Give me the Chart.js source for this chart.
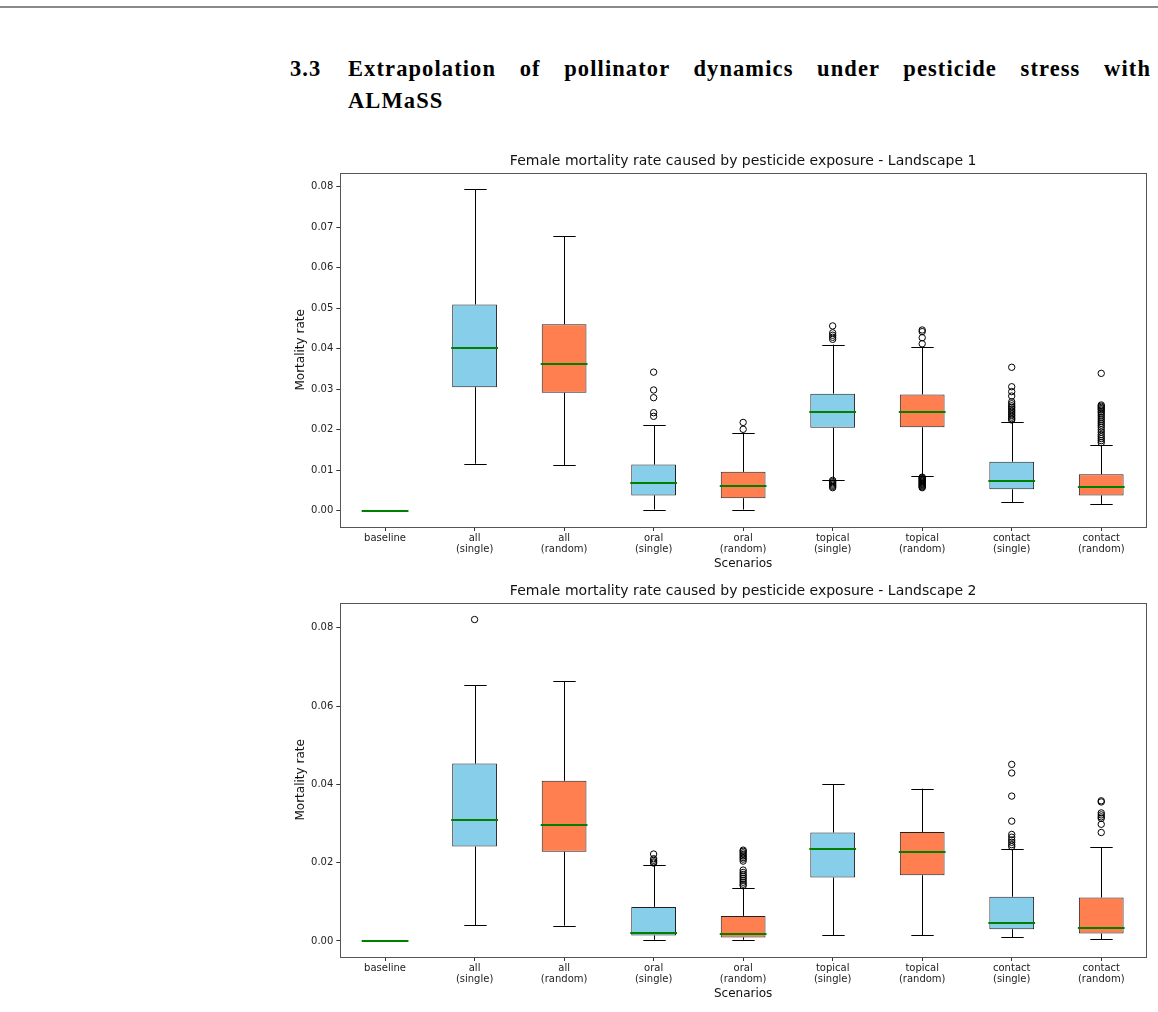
<!DOCTYPE html>
<html>
<head>
<meta charset="utf-8">
<script src="https://cdn.jsdelivr.net/npm/chart.js@4.4.1/dist/chart.umd.min.js"></script>
<style>
  html, body { margin: 0; padding: 0; background: #fff; }
  body { width: 1158px; height: 1012px; position: relative; overflow: hidden; }
  .rule { position: absolute; left: 0; top: 6px; width: 1158px; height: 2px; background: #8a8a8a; }
  .head { position: absolute; font-family: "Liberation Serif", serif; font-weight: bold; font-size: 22.5px; line-height: 32.6px; color: #000; white-space: nowrap; letter-spacing: 1.1px; }
  .num { left: 290px; top: 52.8px; }
  .line1 { left: 348px; top: 52.8px; width: 803px; text-align: justify; text-align-last: justify; white-space: normal; }
  .line2 { left: 348px; top: 85.4px; }
  .box { position: absolute; left: 290px; width: 868px; height: 425px; }
</style>
</head>
<body>
<div class="rule"></div>
<div class="head num">3.3</div>
<div class="head line1">Extrapolation of pollinator dynamics under pesticide stress with</div>
<div class="head line2">ALMaSS</div>
<div class="box" style="top:150px"><canvas id="land1"></canvas></div>
<div class="box" style="top:580px"><canvas id="land2"></canvas></div>
<script>
const scenarios = [["baseline"], ["all", "(single)"], ["all", "(random)"], ["oral", "(single)"], ["oral", "(random)"],
  ["topical", "(single)"], ["topical", "(random)"], ["contact", "(single)"], ["contact", "(random)"]]

// Landscape 1
const l1Low    = [0, 0.0116, 0.0113, 0.0003, 0.0003, 0.0077, 0.0085, 0.0021, 0.0017]
const l1Q1     = [0, 0.0305, 0.0291, 0.0038, 0.0031, 0.0205, 0.0206, 0.0053, 0.0038]
const l1Median = [0, 0.0402, 0.0362, 0.0069, 0.0061, 0.0244, 0.0243, 0.0074, 0.0058]
const l1Q3     = [0, 0.0509, 0.0460, 0.0114, 0.0096, 0.0289, 0.0287, 0.0121, 0.0090]
const l1High   = [0, 0.0793, 0.0677, 0.0211, 0.0192, 0.0410, 0.0404, 0.0220, 0.0162]
const l1Outliers = [
  [], [], [],
  [0.0342, 0.0298, 0.0279, 0.0242, 0.0233],
  [0.0218, 0.0201],
  [0.0456, 0.0439, 0.0433, 0.0428, 0.0423, 0.0075, 0.0072, 0.0069, 0.0066, 0.0063, 0.0060, 0.0057],
  [0.0446, 0.0442, 0.0427, 0.0412, 0.0083, 0.0081, 0.0079, 0.0077, 0.0075, 0.0073, 0.0071, 0.0069, 0.0067, 0.0065, 0.0063, 0.0061, 0.0059, 0.0057],
  [0.0354, 0.0306, 0.0294, 0.0283, 0.0269, 0.0264, 0.0259, 0.0255, 0.0251, 0.0247, 0.0243, 0.0239, 0.0235, 0.0231, 0.0227, 0.0224],
  [0.0339, 0.0261, 0.0258, 0.0255, 0.0252, 0.0249, 0.0245, 0.0241, 0.0236, 0.0231, 0.0226, 0.0221, 0.0216, 0.0211, 0.0206, 0.0200, 0.0194, 0.0188, 0.0183, 0.0178, 0.0173, 0.0168]
]
const l1Ticks = [0, 0.01, 0.02, 0.03, 0.04, 0.05, 0.06, 0.07, 0.08]

// Landscape 2
const l2Low    = [0, 0.0040, 0.0039, 0.0003, 0.0003, 0.0015, 0.0015, 0.0010, 0.0005]
const l2Q1     = [0, 0.0241, 0.0228, 0.0014, 0.0009, 0.0162, 0.0168, 0.0030, 0.0019]
const l2Median = [0, 0.0308, 0.0296, 0.0020, 0.0017, 0.0235, 0.0228, 0.0047, 0.0033]
const l2Q3     = [0, 0.0453, 0.0409, 0.0087, 0.0064, 0.0277, 0.0278, 0.0113, 0.0111]
const l2High   = [0, 0.0653, 0.0663, 0.0194, 0.0136, 0.0400, 0.0389, 0.0235, 0.0239]
const l2Outliers = [
  [], [0.0821], [],
  [0.0222, 0.0210, 0.0206, 0.0202, 0.0199],
  [0.0232, 0.0229, 0.0225, 0.0221, 0.0217, 0.0213, 0.0209, 0.0204, 0.0181, 0.0175, 0.0170, 0.0165, 0.0160, 0.0155, 0.0150, 0.0145, 0.0141],
  [], [],
  [0.0451, 0.0429, 0.0370, 0.0306, 0.0272, 0.0265, 0.0258, 0.0252, 0.0246, 0.0241],
  [0.0358, 0.0355, 0.0327, 0.0322, 0.0317, 0.0313, 0.0298, 0.0277]
]
const l2Ticks = [0, 0.02, 0.04, 0.06, 0.08]

const SINGLE = "#87CEEB"
const RANDOM = "#FF7F50"
const MEDIAN = "#008000"
const FONT = "'DejaVu Sans', sans-serif"

// whiskers, caps, medians, fliers, frame and titles, all placed through the chart scales
const boxParts = {
  id: "boxParts",
  afterDatasetsDraw(chart, args, opts) {
    const { ctx, chartArea: a, scales: { x, y } } = chart
    const unit = x.getPixelForValue(1) - x.getPixelForValue(0)
    const crisp = v => Math.round(v) + 0.5
    ctx.save()
    ctx.lineWidth = 1
    ctx.strokeStyle = "#000"
    opts.low.forEach((lo, i) => {
      const cx = crisp(x.getPixelForValue(i))
      const yLo = y.getPixelForValue(lo), yHi = y.getPixelForValue(opts.high[i])
      const yQ1 = y.getPixelForValue(opts.q1[i]), yQ3 = y.getPixelForValue(opts.q3[i])
      ctx.beginPath()
      ctx.moveTo(cx, yQ1); ctx.lineTo(cx, yLo)
      ctx.moveTo(cx, yQ3); ctx.lineTo(cx, yHi)
      ctx.moveTo(cx - unit * 0.125, crisp(yLo)); ctx.lineTo(cx + unit * 0.125, crisp(yLo))
      ctx.moveTo(cx - unit * 0.125, crisp(yHi)); ctx.lineTo(cx + unit * 0.125, crisp(yHi))
      ctx.stroke()
    })
    ctx.strokeStyle = MEDIAN
    ctx.lineWidth = 2
    opts.median.forEach((m, i) => {
      const cx = x.getPixelForValue(i)
      const ym = Math.round(y.getPixelForValue(m))
      ctx.beginPath()
      ctx.moveTo(cx - unit * 0.25 - 1, ym); ctx.lineTo(cx + unit * 0.25 + 1, ym)
      ctx.stroke()
    })
    ctx.strokeStyle = "#000"
    ctx.lineWidth = 1
    opts.outliers.forEach((list, i) => {
      const cx = x.getPixelForValue(i)
      list.forEach(v => {
        ctx.beginPath()
        ctx.arc(cx, y.getPixelForValue(v), 3.2, 0, Math.PI * 2)
        ctx.stroke()
      })
    })
    ctx.strokeStyle = "#555"
    ctx.strokeRect(crisp(a.left), crisp(a.top), Math.round(a.right - a.left), Math.round(a.bottom - a.top))

    ctx.fillStyle = "#111"
    ctx.textAlign = "center"
    ctx.textBaseline = "middle"
    ctx.font = "14px " + FONT
    ctx.fillText(opts.title, (a.left + a.right) / 2, a.top - 11.5)
    ctx.font = "12px " + FONT
    ctx.fillText("Scenarios", (a.left + a.right) / 2, a.bottom + 37)
    ctx.translate(10.7, (a.top + a.bottom) / 2)
    ctx.rotate(-Math.PI / 2)
    ctx.fillText("Mortality rate", 0, 0)
    ctx.restore()
  }
}

function boxChart(id, title, low, q1, median, q3, high, outliers, ticks, yMin, yMax) {
  return new Chart(document.getElementById(id), {
    type: "bar",
    data: {
      labels: scenarios,
      datasets: [{
        data: q1.map((v, i) => [v, q3[i]]),
        backgroundColor: scenarios.map(s => s[1] === "(random)" ? RANDOM : SINGLE),
        borderColor: "#222",
        borderWidth: 1,
        borderSkipped: false,
        barPercentage: 0.5,
        categoryPercentage: 1
      }]
    },
    options: {
      responsive: true,
      maintainAspectRatio: false,
      animation: false,
      events: [],
      layout: { padding: { left: 0, right: 12, top: 22.7, bottom: 0 } },
      plugins: {
        legend: { display: false },
        tooltip: { enabled: false },
        title: { display: false },
        boxParts: { title, low, q1, median, q3, high, outliers }
      },
      scales: {
        x: {
          offset: true,
          border: { display: false },
          grid: { display: true, drawOnChartArea: false, drawTicks: true, tickLength: 4, color: "#333", offset: false },
          ticks: { color: "#222", padding: 2, font: { family: FONT, size: 10, lineHeight: 1.1 }, maxRotation: 0, autoSkip: false },
          afterFit: s => { s.height = 48 }
        },
        y: {
          min: yMin,
          max: yMax,
          border: { display: false },
          grid: { display: true, drawOnChartArea: false, drawTicks: true, tickLength: 4, color: "#333" },
          ticks: { color: "#222", padding: 3, font: { family: FONT, size: 10 }, callback: v => v.toFixed(2) },
          afterBuildTicks: s => { s.ticks = ticks.map(v => ({ value: v })) },
          afterFit: s => { s.width = 50.3 }
        }
      }
    },
    plugins: [boxParts]
  })
}

boxChart("land1", "Female mortality rate caused by pesticide exposure - Landscape 1",
  l1Low, l1Q1, l1Median, l1Q3, l1High, l1Outliers, l1Ticks, -0.004, 0.0834)
boxChart("land2", "Female mortality rate caused by pesticide exposure - Landscape 2",
  l2Low, l2Q1, l2Median, l2Q3, l2High, l2Outliers, l2Ticks, -0.0041, 0.0864)
</script>
</body>
</html>
